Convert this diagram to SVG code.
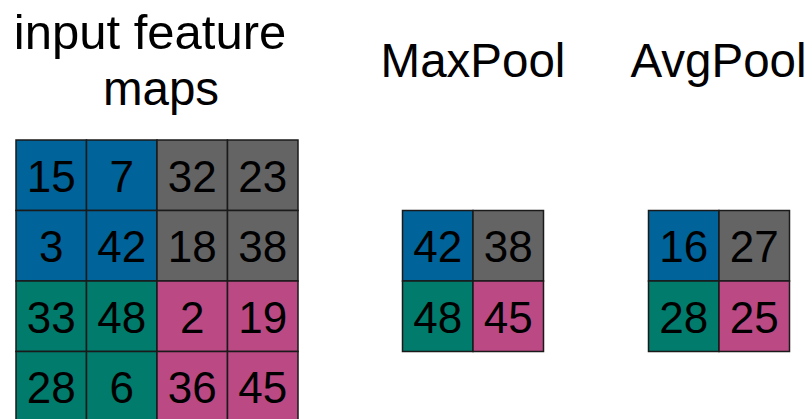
<svg xmlns="http://www.w3.org/2000/svg" width="812" height="419" viewBox="0 0 812 419">
<style>
.t{font-family:"Liberation Sans",Arial,sans-serif;font-size:47.5px;fill:#000;text-anchor:middle}
.d{font-family:"Liberation Sans",Arial,sans-serif;font-size:44px;fill:#000;text-anchor:middle}
.c{stroke:#1a1a1a;stroke-width:1.5}
.b{fill:#00639a}.g{fill:#646464}.e{fill:#007b6c}.m{fill:#bb4a84}
</style>
<rect width="812" height="419" fill="#fff"/>
<g id="titles">
<text class="t" x="150" y="48.5" style="font-size:49px">input feature</text>
<text class="t" x="161" y="104.5">maps</text>
<text class="t" x="473" y="77">MaxPool</text>
<text class="t" x="718.5" y="77">AvgPool</text>
</g>
<g id="input">
<rect class="c b" x="16" y="140" width="70.5" height="70.5"/>
<rect class="c b" x="86.5" y="140" width="70.5" height="70.5"/>
<rect class="c g" x="157" y="140" width="70.5" height="70.5"/>
<rect class="c g" x="227.5" y="140" width="70.5" height="70.5"/>
<rect class="c b" x="16" y="210.5" width="70.5" height="70.5"/>
<rect class="c b" x="86.5" y="210.5" width="70.5" height="70.5"/>
<rect class="c g" x="157" y="210.5" width="70.5" height="70.5"/>
<rect class="c g" x="227.5" y="210.5" width="70.5" height="70.5"/>
<rect class="c e" x="16" y="281" width="70.5" height="70.5"/>
<rect class="c e" x="86.5" y="281" width="70.5" height="70.5"/>
<rect class="c m" x="157" y="281" width="70.5" height="70.5"/>
<rect class="c m" x="227.5" y="281" width="70.5" height="70.5"/>
<rect class="c e" x="16" y="351.5" width="70.5" height="70.5"/>
<rect class="c e" x="86.5" y="351.5" width="70.5" height="70.5"/>
<rect class="c m" x="157" y="351.5" width="70.5" height="70.5"/>
<rect class="c m" x="227.5" y="351.5" width="70.5" height="70.5"/>
<text class="d" x="51.25" y="191.5">15</text>
<text class="d" x="121.75" y="191.5">7</text>
<text class="d" x="192.25" y="191.5">32</text>
<text class="d" x="262.75" y="191.5">23</text>
<text class="d" x="51.25" y="262">3</text>
<text class="d" x="121.75" y="262">42</text>
<text class="d" x="192.25" y="262">18</text>
<text class="d" x="262.75" y="262">38</text>
<text class="d" x="51.25" y="332.5">33</text>
<text class="d" x="121.75" y="332.5">48</text>
<text class="d" x="192.25" y="332.5">2</text>
<text class="d" x="262.75" y="332.5">19</text>
<text class="d" x="51.25" y="403">28</text>
<text class="d" x="121.75" y="403">6</text>
<text class="d" x="192.25" y="403">36</text>
<text class="d" x="262.75" y="403">45</text>
</g>
<g id="maxpool">
<rect class="c b" x="402.5" y="210.5" width="70.5" height="70.5"/>
<rect class="c g" x="473" y="210.5" width="70.5" height="70.5"/>
<rect class="c e" x="402.5" y="281" width="70.5" height="70.5"/>
<rect class="c m" x="473" y="281" width="70.5" height="70.5"/>
<text class="d" x="437.75" y="262">42</text>
<text class="d" x="508.25" y="262">38</text>
<text class="d" x="437.75" y="332.5">48</text>
<text class="d" x="508.25" y="332.5">45</text>
</g>
<g id="avgpool">
<rect class="c b" x="648.5" y="210.5" width="70.5" height="70.5"/>
<rect class="c g" x="719" y="210.5" width="70.5" height="70.5"/>
<rect class="c e" x="648.5" y="281" width="70.5" height="70.5"/>
<rect class="c m" x="719" y="281" width="70.5" height="70.5"/>
<text class="d" x="683.75" y="262">16</text>
<text class="d" x="754.25" y="262">27</text>
<text class="d" x="683.75" y="332.5">28</text>
<text class="d" x="754.25" y="332.5">25</text>
</g>
<g id="connectors"/>
</svg>
